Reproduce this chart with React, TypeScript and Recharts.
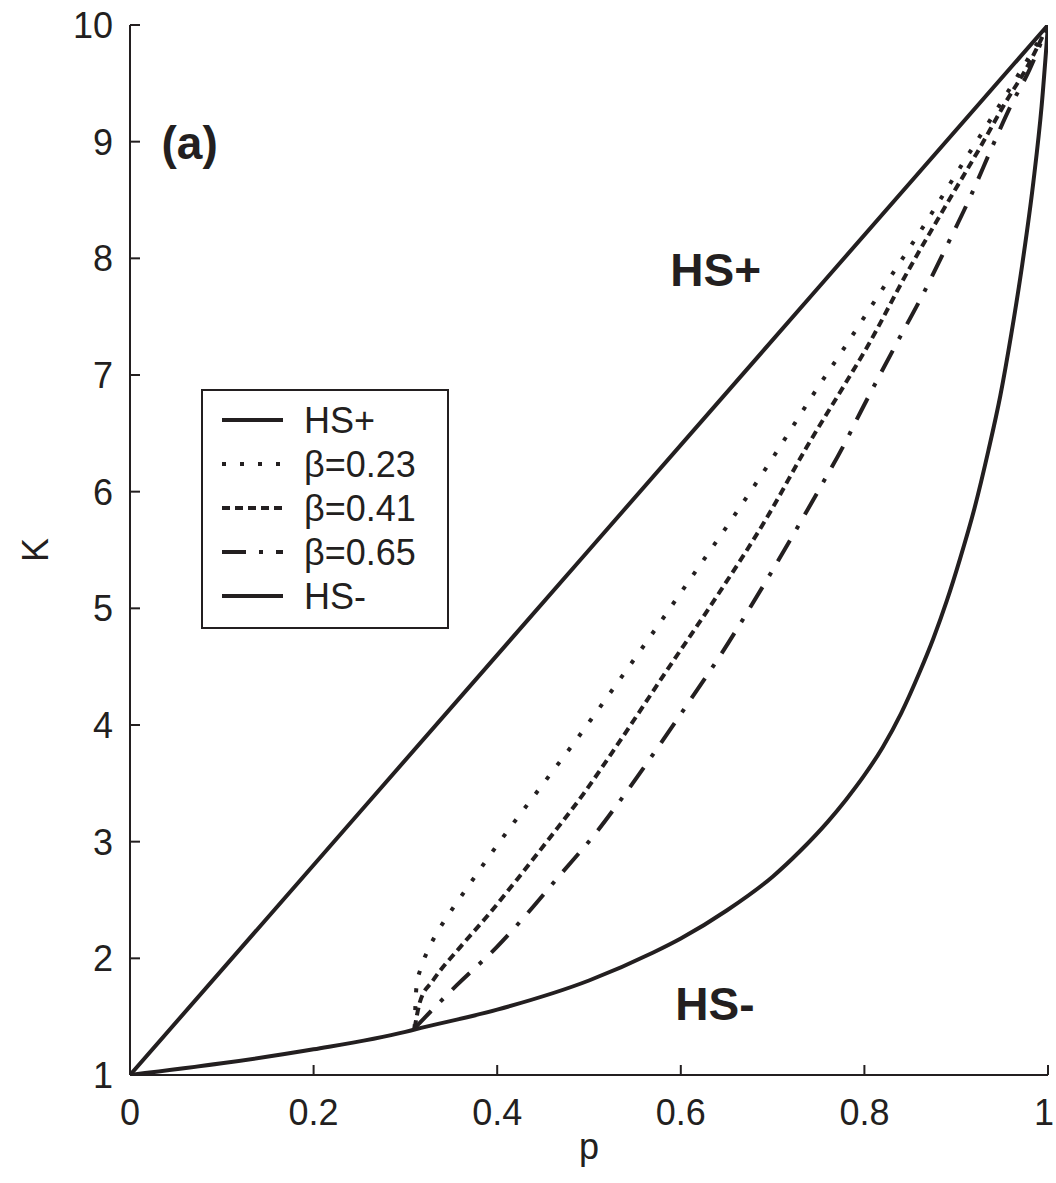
import { LineChart, Line, XAxis, YAxis, ReferenceDot, Label } from 'recharts'

// axis ticks
const pTicks = [0, 0.2, 0.4, 0.6, 0.8, 1]
const kTicks = [1, 2, 3, 4, 5, 6, 7, 8, 9, 10]

// HS+ upper bound (straight line)
const hsPlusP = [0, 0.25, 0.5, 0.75, 1]
const hsPlusK = [1, 3.25, 5.5, 7.75, 10]

// HS- lower bound
const hsMinusP = [0, 0.1, 0.2, 0.3, 0.31, 0.4, 0.5, 0.57, 0.6, 0.65, 0.7, 0.73, 0.76, 0.78, 0.8, 0.82, 0.84, 0.86, 0.875, 0.89, 0.904, 0.92, 0.935, 0.948, 0.96, 0.972, 0.984, 0.993, 1]
const hsMinusK = [1, 1.1, 1.22, 1.37, 1.39, 1.56, 1.81, 2.05, 2.17, 2.41, 2.7, 2.92, 3.17, 3.36, 3.57, 3.81, 4.1, 4.45, 4.74, 5.07, 5.42, 5.86, 6.35, 6.82, 7.35, 7.95, 8.65, 9.3, 10]

// beta = 0.23 (dotted)
const b23P = [0.31, 0.312, 0.317, 0.324, 0.333, 0.344, 0.366, 0.389, 0.414, 0.438, 0.461, 0.485, 0.508, 0.566, 0.612, 0.657, 0.701, 0.744, 0.777, 0.82, 0.864, 0.906, 0.939, 0.962, 0.985, 1]
const b23K = [1.4, 1.75, 1.92, 2.06, 2.2, 2.34, 2.59, 2.85, 3.12, 3.37, 3.61, 3.86, 4.11, 4.75, 5.27, 5.78, 6.3, 6.83, 7.22, 7.74, 8.27, 8.8, 9.21, 9.5, 9.8, 10]

// beta = 0.41 (dashed)
const b41P = [0.31, 0.316, 0.33, 0.359, 0.389, 0.421, 0.458, 0.494, 0.53, 0.585, 0.639, 0.694, 0.737, 0.781, 0.803, 0.846, 0.89, 0.926, 0.951, 0.98, 1]
const b41K = [1.4, 1.63, 1.81, 2.09, 2.36, 2.67, 3.04, 3.41, 3.82, 4.47, 5.1, 5.78, 6.38, 6.95, 7.24, 7.87, 8.47, 8.95, 9.3, 9.68, 10]

// beta = 0.65 (dash-dot)
const b65P = [0.31, 0.327, 0.356, 0.4, 0.429, 0.468, 0.507, 0.543, 0.577, 0.61, 0.645, 0.675, 0.721, 0.75, 0.779, 0.795, 0.835, 0.863, 0.89, 0.915, 0.94, 0.959, 0.98, 1]
const b65K = [1.4, 1.54, 1.77, 2.1, 2.35, 2.71, 3.07, 3.45, 3.83, 4.21, 4.62, 5.0, 5.61, 6.01, 6.42, 6.67, 7.27, 7.68, 8.11, 8.52, 8.97, 9.3, 9.62, 10]

const INK = '#231f20'
const FONT = '"Liberation Sans", Arial, Helvetica, sans-serif'
const FS = 36
const TICK_LEN = 10
const X_TICK_GAP = 24
const Y_TICK_GAP = 17

const toRows = (ps: number[], ks: number[]) => ps.map((p, i) => ({ p, K: ks[i] }))

const series = [
  { name: 'HS+', data: toRows(hsPlusP, hsPlusK), dash: undefined as string | undefined, curve: 'linear' as const },
  { name: 'β=0.23', data: toRows(b23P, b23K), dash: '4 14', curve: 'monotone' as const },
  { name: 'β=0.41', data: toRows(b41P, b41K), dash: '8 5', curve: 'monotone' as const },
  { name: 'β=0.65', data: toRows(b65P, b65K), dash: '24 13 4 13', curve: 'monotone' as const },
  { name: 'HS-', data: toRows(hsMinusP, hsMinusK), dash: undefined as string | undefined, curve: 'monotone' as const },
]

function BottomTick({ x, y, payload, index }: any) {
  const top = y - X_TICK_GAP
  // last label sits right on the page edge, nudge it in a little
  const nudge = index === pTicks.length - 1 ? -4 : 0
  return (
    <g>
      <line x1={x} x2={x} y1={top} y2={top - TICK_LEN} stroke={INK} strokeWidth={2} />
      <text x={x + nudge} y={y} dy="0.71em" textAnchor="middle" fontSize={FS} fontFamily={FONT} fill={INK}>
        {String(payload.value)}
      </text>
    </g>
  )
}

function LeftTick({ x, y, payload }: any) {
  const axisX = x + Y_TICK_GAP
  return (
    <g>
      <line x1={axisX} x2={axisX + TICK_LEN} y1={y} y2={y} stroke={INK} strokeWidth={2} />
      <text x={x} y={y} dy="0.36em" textAnchor="end" fontSize={FS} fontFamily={FONT} fill={INK}>
        {String(payload.value)}
      </text>
    </g>
  )
}

function TopTick({ x, y }: any) {
  return <line x1={x} x2={x} y1={y} y2={y + TICK_LEN} stroke={INK} strokeWidth={2} />
}

function RightTick({ x, y }: any) {
  return <line x1={x} x2={x - TICK_LEN} y1={y} y2={y} stroke={INK} strokeWidth={2} />
}

const boldText = (text: string) => (props: any) => {
  const { viewBox } = props
  return (
    <text x={viewBox.x} y={viewBox.y} textAnchor="middle" fontSize={46} fontWeight="bold" fontFamily={FONT} fill={INK}>
      {text}
    </text>
  )
}

const hsMinusText = (props: any) => {
  const { viewBox } = props
  return (
    <text x={viewBox.x} y={viewBox.y} fontSize={46} fontWeight="bold" fontFamily={FONT} fill={INK}>
      HS<tspan dx={0}>-</tspan>
    </text>
  )
}

function LegendBox() {
  return (
    <svg width={250} height={242} style={{ position: 'absolute', left: 200, top: 388 }}>
      <rect x={2} y={2} width={246} height={238} fill="#fff" stroke={INK} strokeWidth={2} />
      {series.map((s, i) => {
        const cy = 32 + i * 44
        return (
          <g key={s.name}>
            <line x1={22} x2={83} y1={cy} y2={cy} stroke={INK} strokeWidth={4} strokeDasharray={s.dash} />
            <text x={104} y={cy} dy="0.36em" fontSize={FS} fontFamily={FONT} fill={INK}>
              {s.name}
            </text>
          </g>
        )
      })}
    </svg>
  )
}

export default function App() {
  return (
    <div style={{ position: 'absolute', left: 0, top: 0, width: 1056, height: 1183, background: '#fff' }}>
      <LineChart width={1056} height={1183} margin={{ top: 25, right: 8, bottom: 48, left: 0 }}>
        <XAxis
          dataKey="p"
          type="number"
          domain={[0, 1]}
          ticks={pTicks}
          allowDataOverflow
          height={60}
          tickSize={0}
          tickMargin={X_TICK_GAP}
          tick={<BottomTick />}
          axisLine={{ stroke: INK, strokeWidth: 2 }}
        >
          <Label value="p" position="bottom" offset={-2} fontSize={FS} fontFamily={FONT} fill={INK} />
        </XAxis>
        <XAxis
          xAxisId="top"
          orientation="top"
          type="number"
          domain={[0, 1]}
          ticks={pTicks}
          height={0}
          tickSize={0}
          tickMargin={0}
          tick={<TopTick />}
          axisLine={{ stroke: INK, strokeWidth: 2 }}
        />
        <YAxis
          type="number"
          domain={[1, 10]}
          ticks={kTicks}
          allowDataOverflow
          width={130}
          tickSize={0}
          tickMargin={Y_TICK_GAP}
          tick={<LeftTick />}
          axisLine={{ stroke: INK, strokeWidth: 2 }}
        >
          <Label
            content={(props: any) => {
              const vb = props.viewBox
              const cx = vb.x + 35
              const cy = vb.y + vb.height / 2
              return (
                <text x={cx} y={cy} dy="0.36em" textAnchor="middle" transform={`rotate(-90 ${cx} ${cy})`}
                  fontSize={FS} fontFamily={FONT} fill={INK}>
                  K
                </text>
              )
            }}
          />
        </YAxis>
        <YAxis
          yAxisId="right"
          orientation="right"
          type="number"
          domain={[1, 10]}
          ticks={kTicks}
          width={0}
          tickSize={0}
          tickMargin={0}
          tick={<RightTick />}
          axisLine={{ stroke: INK, strokeWidth: 2 }}
        />
        {series.map((s) => (
          <Line
            key={s.name}
            data={s.data}
            dataKey="K"
            name={s.name}
            type={s.curve}
            stroke={INK}
            strokeWidth={4}
            strokeDasharray={s.dash}
            dot={false}
            activeDot={false}
            isAnimationActive={false}
          />
        ))}
        <ReferenceDot x={0.065} y={8.85} r={0} label={boldText('(a)')} />
        <ReferenceDot x={0.638} y={7.76} r={0} label={boldText('HS+')} />
        <ReferenceDot x={0.594} y={1.47} r={0} label={hsMinusText} />
      </LineChart>
      <LegendBox />
    </div>
  )
}
